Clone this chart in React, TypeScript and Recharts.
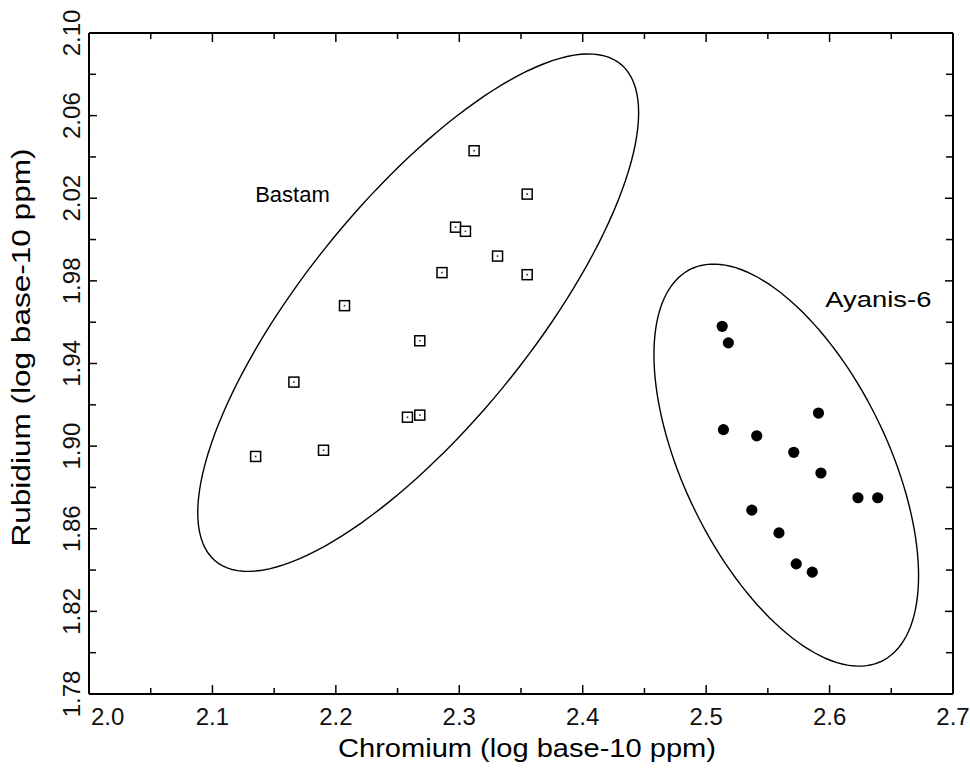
import React from 'react';
import { ScatterChart, Scatter, XAxis, YAxis, Label } from 'recharts';

// Bastam samples (log10 ppm)
const bastamCr = [2.135, 2.166, 2.190, 2.207, 2.268, 2.258, 2.268, 2.312, 2.355, 2.297, 2.305, 2.331, 2.286, 2.355];
const bastamRb = [1.895, 1.931, 1.898, 1.968, 1.951, 1.914, 1.915, 2.043, 2.022, 2.006, 2.004, 1.992, 1.984, 1.983];

// Ayanis-6 samples (log10 ppm)
const ayanisCr = [2.513, 2.518, 2.514, 2.541, 2.591, 2.571, 2.593, 2.623, 2.639, 2.537, 2.559, 2.573, 2.586];
const ayanisRb = [1.958, 1.950, 1.908, 1.905, 1.916, 1.897, 1.887, 1.875, 1.875, 1.869, 1.858, 1.843, 1.839];

// confidence ellipses: centre + two conjugate half-axis vectors, in data units
const bastamEllipse = { cx: 2.2667, cy: 1.9646, ux: 0.1786, uy: 0.0968, vx: 0, vy: 0.0795 };
const ayanisEllipse = { cx: 2.5649, cy: 1.8908, ux: 0.1072, uy: -0.0535, vx: 0, vy: 0.0813 };

const xTicks = [2.0, 2.05, 2.1, 2.15, 2.2, 2.25, 2.3, 2.35, 2.4, 2.45, 2.5, 2.55, 2.6, 2.65, 2.7];
const xTickLabels = ['2.0', '2.1', '2.2', '2.3', '2.4', '2.5', '2.6', '2.7'];
const yTicks = [1.78, 1.8, 1.82, 1.84, 1.86, 1.88, 1.9, 1.92, 1.94, 1.96, 1.98, 2.0, 2.02, 2.04, 2.06, 2.08, 2.1];
const yTickLabels = ['1.78', '1.82', '1.86', '1.90', '1.94', '1.98', '2.02', '2.06', '2.10'];

const FONT = '"Liberation Sans", Helvetica, Arial, sans-serif';

const bastam = bastamCr.map((x, i) => ({ x, y: bastamRb[i] }));
const ayanis = ayanisCr.map((x, i) => ({ x, y: ayanisRb[i] }));

function ellipseOutline(e: typeof bastamEllipse, steps = 144) {
  const pts = [];
  for (let i = 0; i <= steps; i++) {
    const t = (i / steps) * Math.PI * 2;
    pts.push({
      x: e.cx + e.ux * Math.cos(t) + e.vx * Math.sin(t),
      y: e.cy + e.uy * Math.cos(t) + e.vy * Math.sin(t),
    });
  }
  return pts;
}

const labelFor = (labels: string[], v: number) => labels.find((l) => Math.abs(Number(l) - v) < 1e-6);

const XTick = (props: any) => {
  const { x, y, payload, side } = props;
  const label = labelFor(xTickLabels, payload.value);
  const len = label ? 9 : 6;
  if (side === 'top') {
    return <line x1={x} x2={x} y1={y} y2={y + len} stroke="#000" strokeWidth={1.5} />;
  }
  const first = payload.value === xTicks[0];
  return (
    <g>
      <line x1={x} x2={x} y1={y} y2={y - len} stroke="#000" strokeWidth={1.5} />
      {label && (
        <text
          x={first ? x + 2 : x}
          y={y + 31}
          textAnchor={first ? 'start' : 'middle'}
          fontSize={24}
          fontFamily={FONT}
          fill="#111"
        >
          {label}
        </text>
      )}
    </g>
  );
};

const YTick = (props: any) => {
  const { x, y, payload, side } = props;
  const label = labelFor(yTickLabels, payload.value);
  const len = label ? 8 : 7;
  if (side === 'right') {
    return <line x1={x} x2={x - len} y1={y} y2={y} stroke="#000" strokeWidth={1.5} />;
  }
  return (
    <g>
      <line x1={x} x2={x + len} y1={y} y2={y} stroke="#000" strokeWidth={1.5} />
      {label && (
        <text
          x={x - 9}
          y={y}
          transform={`rotate(-90, ${x - 9}, ${y})`}
          textAnchor="middle"
          fontSize={24}
          fontFamily={FONT}
          fill="#111"
        >
          {label}
        </text>
      )}
    </g>
  );
};

const OpenSquare = (props: any) => {
  const { cx, cy } = props;
  return (
    <g>
      <rect x={cx - 5} y={cy - 5} width={10} height={10} fill="#fff" stroke="#000" strokeWidth={1.5} />
      <rect x={cx - 0.8} y={cy - 0.8} width={1.6} height={1.6} fill="#333" />
    </g>
  );
};

const FilledDot = (props: any) => <circle cx={props.cx} cy={props.cy} r={5.6} fill="#000" />;

const NoDot = () => <g />;

const groupLabel = (text: string, length?: number) => (props: any) => (
  <text
    x={props.cx}
    y={props.cy}
    fontSize={22}
    fontFamily={FONT}
    fill="#000"
    textLength={length}
    lengthAdjust={length ? 'spacingAndGlyphs' : undefined}
  >
    {text}
  </text>
);

const axisStyle = { stroke: '#000', strokeWidth: 2 };

export default function App() {
  return (
    <div style={{ position: 'absolute', left: 0, top: 0, background: '#fff' }}>
      <ScatterChart width={970} height={772} margin={{ top: 32, right: 16, bottom: 0, left: 0 }}>
        <XAxis
          type="number"
          dataKey="x"
          domain={[2.0, 2.7]}
          ticks={xTicks}
          interval={0}
          height={78}
          axisLine={axisStyle}
          tickLine={false}
          tickSize={0}
          tickMargin={0}
          tick={<XTick side="bottom" />}
        >
          <Label
            content={(p: any) => {
              const vb = p.viewBox || { x: 89, y: 694, width: 864 };
              const cx = vb.x + vb.width / 2 + 6;
              return (
                <text
                  x={cx}
                  y={vb.y + 63}
                  textAnchor="middle"
                  fontSize={25}
                  fontFamily={FONT}
                  textLength={378}
                  lengthAdjust="spacingAndGlyphs"
                  fill="#000"
                >
                  Chromium (log base-10 ppm)
                </text>
              );
            }}
          />
        </XAxis>
        <XAxis
          xAxisId="top"
          orientation="top"
          type="number"
          dataKey="x"
          domain={[2.0, 2.7]}
          ticks={xTicks}
          interval={0}
          height={1}
          axisLine={axisStyle}
          tickLine={false}
          tickSize={0}
          tickMargin={0}
          tick={<XTick side="top" />}
        />
        <YAxis
          type="number"
          dataKey="y"
          domain={[1.78, 2.1]}
          ticks={yTicks}
          interval={0}
          width={89}
          axisLine={axisStyle}
          tickLine={false}
          tickSize={0}
          tickMargin={0}
          tick={<YTick side="left" />}
        >
          <Label
            content={(p: any) => {
              const vb = p.viewBox || { x: 0, y: 33, height: 661 };
              const cy = vb.y + vb.height / 2 - 16;
              return (
                <text
                  x={30}
                  y={cy}
                  transform={`rotate(-90, 30, ${cy})`}
                  textAnchor="middle"
                  fontSize={25}
                  fontFamily={FONT}
                  textLength={398}
                  lengthAdjust="spacingAndGlyphs"
                  fill="#000"
                >
                  Rubidium (log base-10 ppm)
                </text>
              );
            }}
          />
        </YAxis>
        <YAxis
          yAxisId="right"
          orientation="right"
          type="number"
          dataKey="y"
          domain={[1.78, 2.1]}
          ticks={yTicks}
          interval={0}
          width={1}
          axisLine={axisStyle}
          tickLine={false}
          tickSize={0}
          tickMargin={0}
          tick={<YTick side="right" />}
        />
        {/* invisible series so the mirrored frame axes (top / right) are active */}
        <Scatter
          xAxisId="top"
          yAxisId="right"
          data={bastam}
          shape={NoDot}
          legendType="none"
          isAnimationActive={false}
        />
        <Scatter
          data={ellipseOutline(bastamEllipse)}
          line={{ stroke: '#000', strokeWidth: 1.4 }}
          lineType="joint"
          shape={NoDot}
          isAnimationActive={false}
        />
        <Scatter
          data={ellipseOutline(ayanisEllipse)}
          line={{ stroke: '#000', strokeWidth: 1.4 }}
          lineType="joint"
          shape={NoDot}
          isAnimationActive={false}
        />
        <Scatter name="Bastam" data={bastam} shape={OpenSquare} isAnimationActive={false} />
        <Scatter name="Ayanis-6" data={ayanis} shape={FilledDot} isAnimationActive={false} />
        <Scatter data={[{ x: 2.1346, y: 2.0181 }]} shape={groupLabel('Bastam')} isAnimationActive={false} />
        <Scatter data={[{ x: 2.5966, y: 1.9673 }]} shape={groupLabel('Ayanis-6', 106)} isAnimationActive={false} />
      </ScatterChart>
    </div>
  );
}
